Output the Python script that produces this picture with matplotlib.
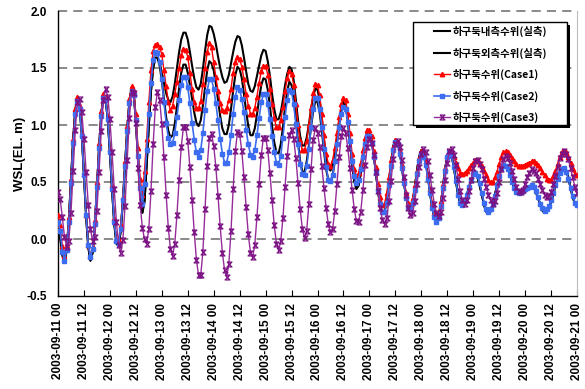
import numpy as np
import matplotlib
matplotlib.use("Agg")
import matplotlib.pyplot as plt
from matplotlib.path import Path
from matplotlib.patches import Rectangle

plt.rcParams['font.family'] = ['Liberation Sans', 'Noto Sans CJK KR', 'DejaVu Sans']
plt.rcParams['axes.unicode_minus'] = False

# ---------------- data (hourly, 2003-09-11 00 .. 2003-09-21 00) ----------------
xtick_labels = ["2003-09-11 00", "2003-09-11 12", "2003-09-12 00", "2003-09-12 12",
                "2003-09-13 00", "2003-09-13 12", "2003-09-14 00", "2003-09-14 12",
                "2003-09-15 00", "2003-09-15 12", "2003-09-16 00", "2003-09-16 12",
                "2003-09-17 00", "2003-09-17 12", "2003-09-18 00", "2003-09-18 12",
                "2003-09-19 00", "2003-09-19 12", "2003-09-20 00", "2003-09-20 12",
                "2003-09-21 00"]
ytick_values = [-0.5, 0.0, 0.5, 1.0, 1.5, 2.0]
ytick_labels = ["-0.5", "0.0", "0.5", "1.0", "1.5", "2.0"]

series_names = ["하구둑내측수위(실측)", "하구둑외측수위(실측)",
                "하구둑수위(Case1)", "하구둑수위(Case2)", "하구둑수위(Case3)"]

inner_obs = [
    0.11, 0.02, -0.14, -0.21, -0.10, 0.16, 0.52, 0.87, 1.13, 1.24, 1.16, 0.92,
    0.56, 0.20, -0.07, -0.19, -0.12, 0.11, 0.44, 0.80, 1.09, 1.25, 1.23, 1.05,
    0.76, 0.43, 0.14, -0.04, -0.06, 0.07, 0.33, 0.65, 0.96, 1.20, 1.32, 1.28,
    1.04, 0.70, 0.40, 0.23, 0.33, 0.65, 1.00, 1.30, 1.50, 1.59, 1.59, 1.55,
    1.46, 1.37, 1.28, 1.22, 1.20, 1.25, 1.36, 1.50, 1.64, 1.75, 1.81, 1.81,
    1.75, 1.64, 1.52, 1.41, 1.33, 1.31, 1.36, 1.49, 1.65, 1.79, 1.87, 1.86,
    1.80, 1.71, 1.60, 1.50, 1.42, 1.37, 1.38, 1.44, 1.54, 1.64, 1.73, 1.78,
    1.77, 1.70, 1.59, 1.47, 1.36, 1.30, 1.29, 1.34, 1.43, 1.52, 1.61, 1.66,
    1.65, 1.56, 1.43, 1.27, 1.14, 1.05, 1.05, 1.11, 1.22, 1.35, 1.45, 1.51,
    1.49, 1.39, 1.22, 1.04, 0.90, 0.82, 0.82, 0.89, 1.00, 1.14, 1.25, 1.32,
    1.31, 1.22, 1.06, 0.87, 0.71, 0.62, 0.60, 0.65, 0.76, 0.89, 1.03, 1.14,
    1.20, 1.17, 1.05, 0.86, 0.66, 0.51, 0.44, 0.47, 0.58, 0.72, 0.86, 0.94,
    0.94, 0.87, 0.74, 0.58, 0.42, 0.29, 0.23, 0.24, 0.33, 0.49, 0.67, 0.81,
    0.87, 0.85, 0.77, 0.64, 0.49, 0.37, 0.28, 0.26, 0.32, 0.45, 0.60, 0.72,
    0.78, 0.76, 0.68, 0.56, 0.41, 0.28, 0.19, 0.15, 0.18, 0.30, 0.45, 0.61,
    0.73, 0.77, 0.73, 0.64, 0.51, 0.39, 0.31, 0.29, 0.32, 0.38, 0.45, 0.51,
    0.56, 0.57, 0.54, 0.47, 0.39, 0.30, 0.24, 0.22, 0.24, 0.29, 0.38, 0.47,
    0.55, 0.62, 0.66, 0.65, 0.62, 0.57, 0.50, 0.44, 0.40, 0.39, 0.40, 0.41,
    0.43, 0.45, 0.46, 0.47, 0.46, 0.41, 0.36, 0.30, 0.25, 0.23, 0.24, 0.27,
    0.33, 0.39, 0.47, 0.53, 0.59, 0.62, 0.63, 0.60, 0.54, 0.45, 0.37, 0.31,
    0.29]

outer_obs = [
    0.11, 0.02, -0.14, -0.21, -0.10, 0.16, 0.52, 0.87, 1.13, 1.24, 1.16, 0.92,
    0.56, 0.20, -0.07, -0.19, -0.12, 0.11, 0.44, 0.80, 1.09, 1.25, 1.23, 1.05,
    0.76, 0.43, 0.14, -0.04, -0.06, 0.07, 0.33, 0.65, 0.96, 1.20, 1.32, 1.28,
    1.04, 0.70, 0.40, 0.23, 0.33, 0.65, 1.00, 1.30, 1.50, 1.59, 1.59, 1.52,
    1.39, 1.23, 1.07, 0.95, 0.89, 0.91, 1.01, 1.16, 1.32, 1.46, 1.53, 1.53,
    1.46, 1.35, 1.23, 1.11, 1.02, 0.99, 1.04, 1.17, 1.33, 1.48, 1.56, 1.54,
    1.48, 1.36, 1.22, 1.08, 0.97, 0.92, 0.92, 1.00, 1.14, 1.30, 1.44, 1.51,
    1.49, 1.41, 1.27, 1.12, 0.99, 0.91, 0.91, 0.97, 1.09, 1.23, 1.35, 1.41,
    1.40, 1.31, 1.17, 0.99, 0.85, 0.76, 0.75, 0.83, 0.98, 1.16, 1.30, 1.38,
    1.35, 1.24, 1.05, 0.85, 0.68, 0.59, 0.59, 0.68, 0.82, 0.98, 1.12, 1.21,
    1.20, 1.11, 0.95, 0.77, 0.61, 0.52, 0.50, 0.56, 0.68, 0.84, 1.00, 1.13,
    1.20, 1.17, 1.05, 0.86, 0.66, 0.51, 0.44, 0.47, 0.58, 0.72, 0.86, 0.94,
    0.94, 0.87, 0.74, 0.58, 0.42, 0.29, 0.23, 0.24, 0.33, 0.49, 0.67, 0.81,
    0.87, 0.85, 0.77, 0.64, 0.49, 0.37, 0.28, 0.26, 0.32, 0.45, 0.60, 0.72,
    0.78, 0.76, 0.68, 0.56, 0.41, 0.28, 0.19, 0.15, 0.18, 0.30, 0.45, 0.61,
    0.73, 0.77, 0.73, 0.64, 0.51, 0.39, 0.31, 0.29, 0.32, 0.38, 0.45, 0.51,
    0.56, 0.57, 0.54, 0.47, 0.39, 0.30, 0.24, 0.22, 0.24, 0.29, 0.38, 0.47,
    0.55, 0.62, 0.66, 0.65, 0.62, 0.57, 0.50, 0.44, 0.40, 0.39, 0.40, 0.41,
    0.43, 0.45, 0.46, 0.47, 0.46, 0.41, 0.36, 0.30, 0.25, 0.23, 0.24, 0.27,
    0.33, 0.39, 0.47, 0.53, 0.59, 0.62, 0.63, 0.60, 0.54, 0.45, 0.37, 0.31,
    0.29]

case1 = [
    0.21, 0.12, -0.06, -0.15, -0.06, 0.19, 0.53, 0.88, 1.14, 1.25, 1.17, 0.92,
    0.57, 0.21, -0.05, -0.15, -0.07, 0.17, 0.50, 0.84, 1.12, 1.27, 1.25, 1.08,
    0.79, 0.47, 0.18, -0.01, -0.01, 0.12, 0.37, 0.68, 0.99, 1.23, 1.34, 1.30,
    1.10, 0.80, 0.53, 0.39, 0.60, 0.88, 1.20, 1.48, 1.65, 1.70, 1.71, 1.68,
    1.62, 1.48, 1.34, 1.20, 1.13, 1.17, 1.27, 1.38, 1.50, 1.61, 1.67, 1.66,
    1.60, 1.46, 1.32, 1.20, 1.15, 1.15, 1.21, 1.36, 1.50, 1.64, 1.72, 1.68,
    1.55, 1.42, 1.30, 1.19, 1.13, 1.12, 1.15, 1.22, 1.32, 1.46, 1.55, 1.60,
    1.58, 1.51, 1.40, 1.27, 1.17, 1.10, 1.10, 1.15, 1.25, 1.37, 1.47, 1.52,
    1.52, 1.44, 1.32, 1.18, 1.06, 0.98, 0.98, 1.04, 1.16, 1.30, 1.41, 1.47,
    1.45, 1.35, 1.18, 1.00, 0.86, 0.78, 0.78, 0.86, 1.00, 1.15, 1.28, 1.36,
    1.35, 1.26, 1.10, 0.91, 0.75, 0.66, 0.64, 0.69, 0.80, 0.93, 1.07, 1.18,
    1.24, 1.22, 1.10, 0.93, 0.75, 0.61, 0.55, 0.58, 0.67, 0.78, 0.89, 0.96,
    0.96, 0.90, 0.77, 0.63, 0.48, 0.37, 0.30, 0.31, 0.40, 0.54, 0.69, 0.81,
    0.87, 0.85, 0.77, 0.65, 0.52, 0.40, 0.32, 0.30, 0.36, 0.47, 0.60, 0.71,
    0.77, 0.75, 0.68, 0.57, 0.44, 0.32, 0.23, 0.20, 0.23, 0.33, 0.48, 0.62,
    0.73, 0.77, 0.76, 0.72, 0.67, 0.62, 0.58, 0.57, 0.58, 0.60, 0.62, 0.65,
    0.67, 0.69, 0.69, 0.67, 0.64, 0.60, 0.56, 0.52, 0.50, 0.50, 0.54, 0.59,
    0.66, 0.72, 0.76, 0.77, 0.76, 0.74, 0.71, 0.68, 0.66, 0.64, 0.64, 0.64,
    0.65, 0.66, 0.67, 0.68, 0.68, 0.67, 0.65, 0.62, 0.59, 0.56, 0.53, 0.52,
    0.52, 0.55, 0.60, 0.66, 0.72, 0.76, 0.77, 0.76, 0.72, 0.67, 0.61, 0.57,
    0.56]

case2 = [
    0.15, 0.07, -0.11, -0.19, -0.10, 0.15, 0.49, 0.84, 1.10, 1.21, 1.14, 0.90,
    0.56, 0.21, -0.05, -0.16, -0.09, 0.13, 0.46, 0.80, 1.08, 1.24, 1.22, 1.05,
    0.76, 0.44, 0.15, -0.02, -0.04, 0.09, 0.34, 0.64, 0.95, 1.19, 1.30, 1.26,
    1.04, 0.73, 0.45, 0.31, 0.48, 0.78, 1.10, 1.37, 1.57, 1.64, 1.63, 1.55,
    1.40, 1.20, 1.02, 0.89, 0.83, 0.84, 0.93, 1.07, 1.22, 1.35, 1.42, 1.42,
    1.33, 1.19, 1.02, 0.87, 0.76, 0.72, 0.78, 0.93, 1.13, 1.30, 1.40, 1.40,
    1.32, 1.19, 1.04, 0.88, 0.75, 0.67, 0.67, 0.76, 0.91, 1.10, 1.25, 1.33,
    1.31, 1.23, 1.11, 0.96, 0.83, 0.74, 0.72, 0.78, 0.91, 1.06, 1.20, 1.27,
    1.27, 1.18, 1.05, 0.90, 0.76, 0.67, 0.65, 0.73, 0.89, 1.07, 1.22, 1.31,
    1.29, 1.18, 1.01, 0.83, 0.66, 0.57, 0.56, 0.64, 0.79, 0.98, 1.14, 1.24,
    1.24, 1.14, 0.98, 0.79, 0.63, 0.52, 0.51, 0.56, 0.68, 0.83, 0.98, 1.10,
    1.16, 1.14, 1.03, 0.86, 0.68, 0.55, 0.49, 0.52, 0.61, 0.72, 0.83, 0.90,
    0.90, 0.84, 0.72, 0.58, 0.43, 0.31, 0.24, 0.24, 0.32, 0.47, 0.64, 0.78,
    0.85, 0.83, 0.75, 0.62, 0.49, 0.36, 0.28, 0.26, 0.32, 0.43, 0.57, 0.68,
    0.74, 0.72, 0.65, 0.53, 0.40, 0.27, 0.19, 0.15, 0.18, 0.29, 0.45, 0.60,
    0.72, 0.76, 0.73, 0.63, 0.51, 0.39, 0.32, 0.30, 0.33, 0.39, 0.46, 0.52,
    0.57, 0.58, 0.55, 0.49, 0.40, 0.32, 0.26, 0.24, 0.26, 0.31, 0.38, 0.47,
    0.55, 0.61, 0.65, 0.64, 0.61, 0.56, 0.50, 0.45, 0.41, 0.40, 0.41, 0.42,
    0.44, 0.45, 0.46, 0.47, 0.46, 0.42, 0.37, 0.31, 0.27, 0.25, 0.26, 0.29,
    0.34, 0.40, 0.47, 0.53, 0.58, 0.61, 0.62, 0.59, 0.53, 0.45, 0.38, 0.32,
    0.30]

case3 = [
    0.41, 0.35, 0.19, 0.02, -0.07, -0.02, 0.23, 0.60, 0.96, 1.20, 1.23, 1.11,
    0.88, 0.59, 0.30, 0.09, -0.02, 0.02, 0.25, 0.59, 0.95, 1.22, 1.32, 1.25,
    1.05, 0.76, 0.44, 0.15, -0.05, -0.12, -0.01, 0.29, 0.69, 1.06, 1.29, 1.28,
    1.02, 0.62, 0.30, 0.10, 0.00, -0.04, 0.09, 0.42, 0.83, 1.16, 1.29, 1.22,
    1.01, 0.72, 0.39, 0.10, -0.09, -0.15, -0.04, 0.21, 0.52, 0.81, 0.98, 0.98,
    0.86, 0.63, 0.34, 0.06, -0.18, -0.32, -0.32, -0.11, 0.26, 0.64, 0.89, 0.92,
    0.82, 0.63, 0.38, 0.11, -0.12, -0.27, -0.33, -0.22, 0.07, 0.44, 0.77, 0.94,
    0.92, 0.77, 0.54, 0.28, 0.04, -0.12, -0.16, -0.05, 0.19, 0.48, 0.74, 0.89,
    0.89, 0.78, 0.58, 0.34, 0.12, -0.04, -0.10, -0.02, 0.18, 0.46, 0.73, 0.91,
    0.96, 0.88, 0.71, 0.49, 0.26, 0.09, 0.01, 0.07, 0.31, 0.61, 0.87, 0.97,
    0.93, 0.81, 0.64, 0.45, 0.27, 0.13, 0.06, 0.09, 0.25, 0.48, 0.72, 0.90,
    0.97, 0.93, 0.80, 0.62, 0.43, 0.26, 0.16, 0.15, 0.24, 0.43, 0.65, 0.81,
    0.88, 0.84, 0.74, 0.59, 0.42, 0.27, 0.17, 0.13, 0.18, 0.33, 0.51, 0.70,
    0.83, 0.86, 0.81, 0.69, 0.54, 0.39, 0.27, 0.21, 0.23, 0.33, 0.48, 0.63,
    0.75, 0.79, 0.76, 0.68, 0.56, 0.43, 0.31, 0.23, 0.20, 0.24, 0.36, 0.52,
    0.67, 0.77, 0.79, 0.74, 0.65, 0.53, 0.42, 0.34, 0.31, 0.34, 0.42, 0.52,
    0.62, 0.68, 0.69, 0.66, 0.61, 0.53, 0.46, 0.39, 0.34, 0.31, 0.33, 0.40,
    0.50, 0.61, 0.70, 0.73, 0.71, 0.67, 0.60, 0.53, 0.46, 0.42, 0.41, 0.43,
    0.48, 0.54, 0.58, 0.61, 0.60, 0.58, 0.53, 0.48, 0.43, 0.39, 0.37, 0.38,
    0.41, 0.48, 0.55, 0.63, 0.71, 0.75, 0.77, 0.75, 0.70, 0.62, 0.54, 0.46,
    0.40]

hours = np.arange(len(inner_obs))
tick_hours = np.arange(0, 12 * len(xtick_labels), 12)

# ---------------- figure ----------------
W, H = 585, 389
fig = plt.figure(figsize=(W / 100, H / 100), dpi=100)
ax = fig.add_axes([58 / W, 1 - 296 / H, 519 / W, 285 / H])

hourglass = Path([(-1, 1), (1, 1), (-1, -1), (1, -1), (-1, 1)],
                 [Path.MOVETO, Path.LINETO, Path.LINETO, Path.LINETO, Path.LINETO])

l1, = ax.plot(hours, inner_obs, color='black', lw=1.5, zorder=3)
l2, = ax.plot(hours, outer_obs, color='black', lw=1.5, zorder=3)
l3, = ax.plot(hours, case1, color='#FF0000', lw=1.0, marker='^', ms=3.2,
              mec='#FF0000', mfc='#FF0000', zorder=4)
l4, = ax.plot(hours, case2, color='#3C6CF0', lw=1.2, marker='s', ms=2.8,
              mec='#3C6CF0', mfc='#3C6CF0', zorder=5)
l5, = ax.plot(hours, case3, color='#962B9A', lw=1.0, marker=hourglass, ms=3.5,
              mec='#7A1082', mfc='none', mew=0.9, zorder=6)

ax.set_xlim(tick_hours[0], tick_hours[-1])
ax.set_ylim(ytick_values[0], ytick_values[-1])

for v in ytick_values[1:]:
    ax.axhline(v, color='#6a6a6a', lw=1.1, dashes=(6, 4), zorder=1, clip_on=False)

ax.set_yticks(ytick_values)
ax.set_yticklabels(ytick_labels, fontweight='bold', fontsize=8.5)
ax.tick_params(axis='y', length=0, pad=8)
ax.set_xticks(tick_hours)
ax.set_xticklabels(xtick_labels, rotation=90, fontweight='bold', fontsize=8.5)
ax.tick_params(axis='x', direction='in', length=4, pad=5, width=0.8)

ax.spines['top'].set_visible(False)
ax.spines['right'].set_color('#bbbbbb')
ax.spines['left'].set_linewidth(1.0)
ax.spines['bottom'].set_linewidth(1.0)

ax.set_ylabel('WSL(EL. m)', fontweight='bold', fontsize=9.5, labelpad=0)

# legend box with shadow
bx0, bx1, by0, by1 = 413, 567, 22, 125
shadow = Rectangle(((bx0 + 3) / W, 1 - (by1 + 3) / H), (bx1 - bx0) / W, (by1 - by0) / H,
                   transform=fig.transFigure, facecolor='black', edgecolor='none',
                   clip_on=False, zorder=10)
box = Rectangle((bx0 / W, 1 - by1 / H), (bx1 - bx0) / W, (by1 - by0) / H,
                transform=fig.transFigure, facecolor='white', edgecolor='black',
                lw=1.0, clip_on=False, zorder=11)
ax.add_patch(shadow)
ax.add_patch(box)

leg = ax.legend([l1, l2, l3, l4, l5], series_names, loc='upper left',
                bbox_to_anchor=(434 / W, 1 - 26 / H), bbox_transform=fig.transFigure,
                frameon=False, borderaxespad=0, borderpad=0,
                handlelength=1.5, handletextpad=0.3, labelspacing=1.0,
                prop={'family': ['Noto Sans CJK KR', 'DejaVu Sans'], 'weight': 'bold', 'size': 7.5})
leg.set_zorder(12)

fig.savefig('out.png', dpi=100)
